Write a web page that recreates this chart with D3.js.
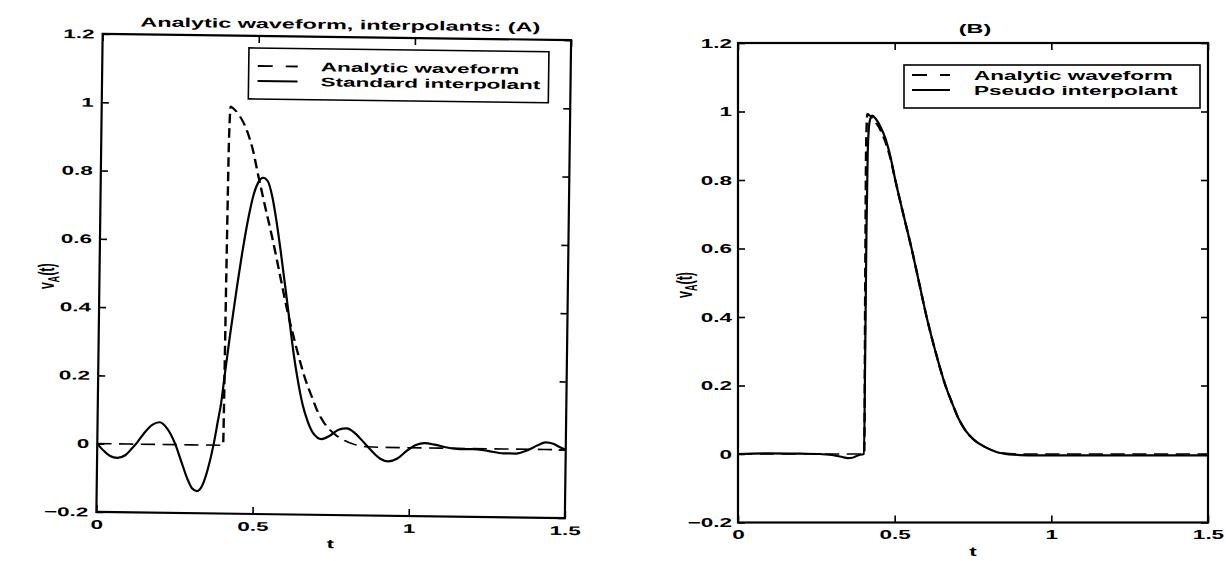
<!DOCTYPE html>
<html>
<head>
<meta charset="utf-8">
<script src="https://cdn.jsdelivr.net/npm/d3@7"></script>
<style>
  html, body { margin: 0; padding: 0; background: #fff; }
  svg { display: block; }
  text { font-family: "Liberation Sans", Arial, Helvetica, sans-serif; font-weight: bold; fill: #000; }
</style>
</head>
<body>
<svg id="chart" width="1226" height="561"></svg>
<script>
// ---- data -----------------------------------------------------------------
const tTicks = [0, 0.5, 1, 1.5];
const tTickLabels = ["0", "0.5", "1", "1.5"];
const vTicks = [-0.2, 0, 0.2, 0.4, 0.6, 0.8, 1, 1.2];
const vTickLabels = ["\u22120.2", "0", "0.2", "0.4", "0.6", "0.8", "1", "1.2"];

// analytic waveform (shared by both panels)
const analyticT = [0, 0.1, 0.2, 0.3, 0.4, 0.403, 0.406, 0.409, 0.413, 0.42, 0.44, 0.455, 0.471, 0.487,
  0.502, 0.525, 0.554, 0.578, 0.602, 0.63, 0.662, 0.685, 0.703, 0.725, 0.755, 0.789, 0.825, 0.865,
  0.9, 1.0, 1.1, 1.2, 1.3, 1.4, 1.5];
const analyticV = [0, 0, 0, 0, 0, 0, 0.5, 0.9, 0.993, 0.988, 0.968, 0.945, 0.91, 0.862,
  0.80, 0.71, 0.60, 0.50, 0.40, 0.30, 0.20, 0.145, 0.105, 0.07, 0.04, 0.02, 0.007, 0.001,
  0, 0, 0, 0, 0, 0, 0];

// standard interpolant (panel A)
const standardT = [0, 0.02, 0.04, 0.065, 0.09, 0.11, 0.126, 0.15, 0.175, 0.199, 0.222, 0.248, 0.27, 0.29,
  0.305, 0.321, 0.337, 0.355, 0.372, 0.385, 0.395, 0.405, 0.42, 0.44, 0.458, 0.475, 0.49, 0.505, 0.52,
  0.535, 0.55, 0.565, 0.58, 0.597, 0.612, 0.625, 0.64, 0.655, 0.67, 0.69, 0.718, 0.745, 0.772, 0.798,
  0.825, 0.855, 0.883, 0.908, 0.932, 0.96, 0.99, 1.02, 1.048, 1.08, 1.12, 1.16, 1.2, 1.25, 1.3, 1.34,
  1.38, 1.41, 1.435, 1.46, 1.48, 1.5];
const standardV = [0, -0.02, -0.035, -0.041, -0.033, -0.014, 0.003, 0.033, 0.057, 0.065, 0.048, 0.005, -0.05, -0.10,
  -0.127, -0.135, -0.12, -0.07, 0.0, 0.07, 0.125, 0.205, 0.32, 0.46, 0.576, 0.67, 0.735, 0.772, 0.785,
  0.775, 0.73, 0.655, 0.565, 0.455, 0.355, 0.27, 0.19, 0.125, 0.08, 0.04, 0.022, 0.033, 0.05, 0.054,
  0.04, 0.012, -0.015, -0.034, -0.041, -0.033, -0.01, 0.008, 0.014, 0.01, 0.002, -0.002, -0.002, -0.006, -0.013, -0.013,
  -0.002, 0.012, 0.021, 0.017, 0.008, 0.0];

// pseudo interpolant (panel B)
const pseudoT = [0, 0.1, 0.2, 0.26, 0.3, 0.33, 0.35, 0.365, 0.38, 0.392, 0.402, 0.406, 0.41, 0.414, 0.42,
  0.428, 0.44, 0.455, 0.471, 0.487, 0.502, 0.525, 0.554, 0.578, 0.602, 0.63, 0.662, 0.685, 0.703, 0.725,
  0.755, 0.789, 0.825, 0.865, 0.9, 0.95, 1.0, 1.1, 1.2, 1.3, 1.4, 1.5];
const pseudoV = [0, 0.002, 0.001, 0, -0.003, -0.008, -0.012, -0.011, -0.005, -0.002, 0.0, 0.3, 0.65, 0.88, 0.97,
  0.988, 0.978, 0.955, 0.92, 0.866, 0.80, 0.71, 0.60, 0.50, 0.40, 0.30, 0.20, 0.145, 0.105, 0.07,
  0.04, 0.02, 0.006, -0.001, -0.003, -0.004, -0.004, -0.004, -0.004, -0.004, -0.004, -0.004];

const legendA = ["Analytic waveform", "Standard interpolant"];
const legendB = ["Analytic waveform", "Pseudo interpolant"];
const titleA = "Analytic waveform, interpolants: (A)";
const titleB = "(B)";

// ---- drawing --------------------------------------------------------------
const SX = 1.8;      // horizontal stretch of the printed lettering
const FS = 12.5;     // font size
const svg = d3.select("#chart");
svg.append("rect").attr("width", 1226).attr("height", 561).attr("fill", "#fff");

function stretchedText(g, x, y, str, anchor, size) {
  return g.append("text")
    .attr("transform", `translate(${x},${y}) scale(${SX},1)`)
    .attr("text-anchor", anchor || "start")
    .attr("font-size", size || FS)
    .text(str);
}

function zipPts(ts, vs) { return ts.map((t, i) => [t, vs[i]]); }

function drawPanel(p) {
  const g = svg.append("g")
    .attr("transform", `rotate(${p.rot},${(p.left + p.right) / 2},${(p.top + p.bottom) / 2})`);

  const x = d3.scaleLinear().domain([0, 1.5]).range([p.left, p.right]);
  const y = d3.scaleLinear().domain([-0.2, 1.2]).range([p.bottom, p.top]);

  // dashed analytic waveform, drawn in unstretched units so dashes follow the print
  const DS = 1.5;
  const xd = d3.scaleLinear().domain([0, 1.5]).range([p.left / DS, p.right / DS]);
  const dashLine = d3.line().x(d => xd(d[0])).y(d => y(d[1])).curve(d3.curveMonotoneX);
  g.append("g").attr("transform", `scale(${DS},1)`)
    .append("path")
    .attr("d", dashLine(zipPts(analyticT, analyticV)))
    .attr("fill", "none").attr("stroke", "#000")
    .attr("stroke-width", 1.6)
    .attr("stroke-dasharray", "9.5,5");

  const line = d3.line().x(d => x(d[0])).y(d => y(d[1])).curve(d3.curveMonotoneX);
  g.append("path")
    .attr("d", line(zipPts(p.solidT, p.solidV)))
    .attr("fill", "none").attr("stroke", "#000")
    .attr("stroke-width", 2.2).attr("stroke-linejoin", "round");

  // axes with inward ticks on all four sides
  const TK = 7;
  const ax = g.append("g").attr("transform", `translate(0,${p.bottom})`)
    .call(d3.axisBottom(x).tickValues(tTicks).tickFormat((d, i) => tTickLabels[i])
      .tickSizeInner(-TK).tickSizeOuter(0).tickPadding(8));
  const ay = g.append("g").attr("transform", `translate(${p.left},0)`)
    .call(d3.axisLeft(y).tickValues(vTicks).tickFormat((d, i) => vTickLabels[i])
      .tickSizeInner(-TK).tickSizeOuter(0).tickPadding(p.yPad));
  const at = g.append("g").attr("transform", `translate(0,${p.top})`)
    .call(d3.axisTop(x).tickValues(tTicks).tickFormat("").tickSizeInner(-TK).tickSizeOuter(0));
  const ar = g.append("g").attr("transform", `translate(${p.right},0)`)
    .call(d3.axisRight(y).tickValues(vTicks).tickFormat("").tickSizeInner(-TK).tickSizeOuter(0));
  [ax, ay, at, ar].forEach(a => {
    a.attr("font-family", null).attr("font-size", null);
    a.select(".domain").remove();
    a.selectAll(".tick line").attr("stroke", "#000").attr("stroke-width", 1.6);
  });
  ax.selectAll(".tick text").attr("font-size", FS).attr("fill", "#000")
    .attr("transform", `scale(${SX},1)`);
  ay.selectAll(".tick text").attr("font-size", FS).attr("fill", "#000")
    .attr("x", -p.yPad / SX).attr("transform", `scale(${SX},1)`);

  g.append("rect")
    .attr("x", p.left).attr("y", p.top)
    .attr("width", p.right - p.left).attr("height", p.bottom - p.top)
    .attr("fill", "none").attr("stroke", "#000").attr("stroke-width", 2.2);

  // labels
  stretchedText(g, (p.left + p.right) / 2, p.bottom + 33, "t", "middle");
  stretchedText(g, p.titleX, p.titleY, p.title, "middle", 13);

  const yl = g.append("text")
    .attr("transform", `translate(${p.yLabelX},${p.yLabelY}) rotate(-90) scale(1,${SX})`)
    .attr("text-anchor", "middle").attr("font-size", FS);
  yl.append("tspan").text("v");
  yl.append("tspan").attr("font-size", FS * 0.72).attr("dy", 3).text("A");
  yl.append("tspan").attr("dy", -3).text("(t)");

  // legend
  const L = p.legend;
  g.append("rect")
    .attr("x", L.x0).attr("y", L.y0).attr("width", L.x1 - L.x0).attr("height", L.y1 - L.y0)
    .attr("fill", "#fff").attr("stroke", "#000").attr("stroke-width", 1.6);
  g.append("line")
    .attr("x1", L.sx0).attr("x2", L.sx1).attr("y1", L.r1).attr("y2", L.r1)
    .attr("stroke", "#000").attr("stroke-width", 1.8).attr("stroke-dasharray", "15,13");
  g.append("line")
    .attr("x1", L.sx0).attr("x2", L.sx1).attr("y1", L.r2).attr("y2", L.r2)
    .attr("stroke", "#000").attr("stroke-width", 1.8);
  stretchedText(g, L.tx, L.r1 + 4.5, p.legendLabels[0], "start");
  stretchedText(g, L.tx, L.r2 + 4.5, p.legendLabels[1], "start");
}

drawPanel({
  left: 99.5, right: 568, top: 37, bottom: 515, rot: 0.75, yPad: 8,
  solidT: standardT, solidV: standardV,
  title: titleA, titleX: 337, titleY: 29,
  yLabelX: 54, yLabelY: 280,
  legend: { x0: 246, x1: 546, y0: 49, y1: 100, sx0: 255, sx1: 295, r1: 67, r2: 82, tx: 318 },
  legendLabels: legendA
});

drawPanel({
  left: 738, right: 1208, top: 43, bottom: 522.5, rot: 0, yPad: 6,
  solidT: pseudoT, solidV: pseudoV,
  title: titleB, titleX: 975, titleY: 33,
  yLabelX: 692, yLabelY: 285,
  legend: { x0: 904, x1: 1200, y0: 65, y1: 108, sx0: 912, sx1: 950, r1: 75, r2: 90, tx: 974 },
  legendLabels: legendB
});
</script>
</body>
</html>
